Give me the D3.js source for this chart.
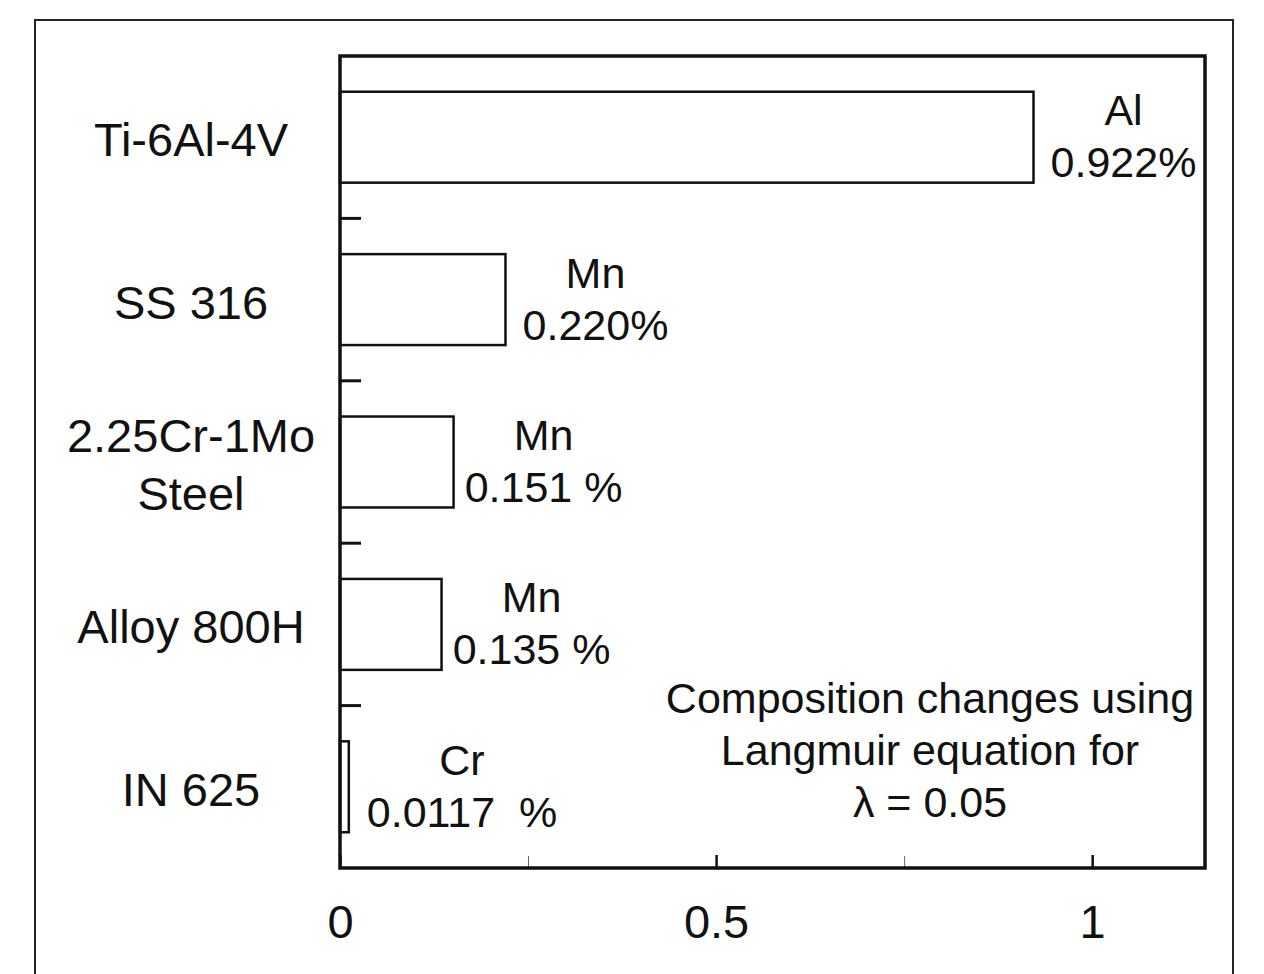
<!DOCTYPE html>
<html>
<head>
<meta charset="utf-8">
<script src="https://cdn.jsdelivr.net/npm/d3@7"></script>
<style>
  body { margin: 0; background: #fff; }
  text { font-family: "Liberation Sans", Arial, sans-serif; fill: #111; }
</style>
</head>
<body>
<div class="chart"></div>
<script>
// data
var alloys = ["Ti-6Al-4V", "SS 316", "2.25Cr-1Mo\nSteel", "Alloy 800H", "IN 625"];
var changes = [0.922, 0.220, 0.151, 0.135, 0.0117];
var elements = ["Al", "Mn", "Mn", "Mn", "Cr"];
var changeLabels = ["0.922%", "0.220%", "0.151 %", "0.135 %", "0.0117  %"];
var majorTicks = [0, 0.5, 1];
var minorTicks = [0.25, 0.75];
var noteLines = ["Composition changes using", "Langmuir equation for", "\u03bb = 0.05"];

var svgWidth = 1264;
var svgHeight = 974;

var margin = { top: 56, right: 59, bottom: 106, left: 340 };
var width = svgWidth - margin.left - margin.right;
var height = svgHeight - margin.top - margin.bottom;

var svg = d3.select(".chart")
    .append("svg")
    .attr("width", svgWidth)
    .attr("height", svgHeight);

// outer figure border (runs off the bottom of the picture)
svg.append("rect")
    .attr("x", 35).attr("y", 20)
    .attr("width", 1198).attr("height", 990)
    .attr("fill", "none")
    .attr("stroke", "#222")
    .attr("stroke-width", 2);

var chartGroup = svg.append("g")
    .attr("transform", `translate(${margin.left}, ${margin.top})`);

// scales
var xScale = d3.scaleLinear()
    .domain([0, 1.15])
    .range([0, width]);

var yScale = d3.scaleBand()
    .domain(alloys)
    .range([0, height])
    .paddingInner(0.44)
    .paddingOuter(0.22);

// bars
chartGroup.selectAll(".bar")
    .data(alloys)
    .enter()
    .append("rect")
    .attr("class", "bar")
    .attr("x", xScale(0))
    .attr("y", d => yScale(d))
    .attr("width", (d, i) => xScale(changes[i]) - xScale(0))
    .attr("height", yScale.bandwidth())
    .attr("fill", "#fff")
    .attr("stroke", "#111")
    .attr("stroke-width", 2.5);

// bar labels: element on first line, change on second
var labelX = (d, i) => Math.max(xScale(changes[i]) + 90, 122);
var mid = d => yScale(d) + yScale.bandwidth() / 2;

chartGroup.selectAll(".elem")
    .data(alloys)
    .enter()
    .append("text")
    .attr("class", "elem")
    .attr("x", labelX)
    .attr("y", d => mid(d) - 12)
    .attr("text-anchor", "middle")
    .attr("font-size", "43px")
    .text((d, i) => elements[i]);

chartGroup.selectAll(".pct")
    .data(alloys)
    .enter()
    .append("text")
    .attr("class", "pct")
    .attr("x", labelX)
    .attr("y", d => mid(d) + 40)
    .attr("text-anchor", "middle")
    .attr("font-size", "43px")
    .attr("xml:space", "preserve")
    .style("white-space", "pre")
    .text((d, i) => changeLabels[i]);

// category labels on the left
alloys.forEach(function (a) {
    var lines = a.split("\n");
    var t = chartGroup.append("text")
        .attr("text-anchor", "middle")
        .attr("font-size", "47px");
    lines.forEach(function (line, j) {
        t.append("tspan")
            .attr("x", 191 - margin.left)
            .attr("y", mid(a) + 19 + (j - (lines.length - 1) / 2) * 58)
            .text(line);
    });
});

// y ticks between categories
chartGroup.selectAll(".ytick")
    .data(alloys.slice(1))
    .enter()
    .append("line")
    .attr("class", "ytick")
    .attr("x1", 0).attr("x2", 21)
    .attr("y1", d => yScale(d) - yScale.step() * yScale.paddingInner() / 2)
    .attr("y2", d => yScale(d) - yScale.step() * yScale.paddingInner() / 2)
    .attr("stroke", "#111")
    .attr("stroke-width", 3);

// x axis: major ticks pointing inward, labels below
var bottomAxis = d3.axisBottom(xScale)
    .tickValues(majorTicks)
    .tickSize(-13)
    .tickPadding(37)
    .tickFormat(d3.format("~g"));

var xAxis = chartGroup.append("g")
    .attr("transform", `translate(0, ${height})`)
    .call(bottomAxis);
xAxis.select(".domain").remove();
xAxis.selectAll(".tick line").attr("stroke", "#111").attr("stroke-width", 2.5);
xAxis.selectAll(".tick text")
    .attr("font-size", "47px")
    .attr("font-family", "Liberation Sans, Arial, sans-serif")
    .attr("fill", "#111");

// minor ticks
var minorAxis = d3.axisBottom(xScale)
    .tickValues(minorTicks)
    .tickSize(-12)
    .tickFormat("");
var xMinor = chartGroup.append("g")
    .attr("transform", `translate(0, ${height})`)
    .call(minorAxis);
xMinor.select(".domain").remove();
xMinor.selectAll(".tick line").attr("stroke", "#666").attr("stroke-width", 1);

// plot frame
chartGroup.append("rect")
    .attr("x", 0).attr("y", 0)
    .attr("width", width).attr("height", height)
    .attr("fill", "none")
    .attr("stroke", "#111")
    .attr("stroke-width", 3.5);

// note text
chartGroup.append("text")
    .attr("text-anchor", "middle")
    .attr("font-size", "43px")
    .selectAll("tspan")
    .data(noteLines)
    .enter()
    .append("tspan")
    .attr("x", 590)
    .attr("y", (d, i) => 657 + i * 52)
    .text(d => d);
</script>
</body>
</html>
